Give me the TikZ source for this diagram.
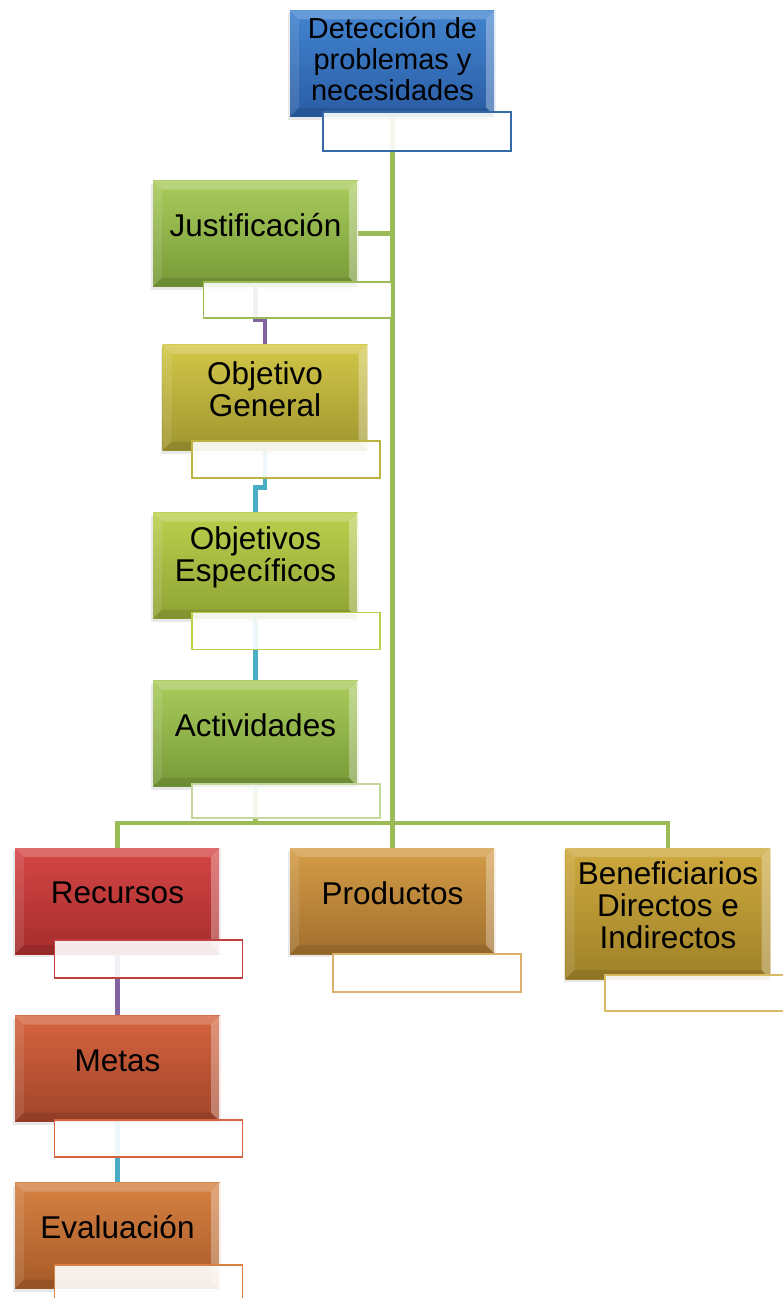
\documentclass[tikz,border=0pt]{standalone}
\usepackage{fontspec}
\setmainfont{Liberation Sans}
\usetikzlibrary{calc,shadows,positioning}

\definecolor{cBlueT}{HTML}{4284CF}
\definecolor{cBlueB}{HTML}{2A5DA5}
\definecolor{cGreenT}{HTML}{A9CB5C}
\definecolor{cGreenB}{HTML}{779A38}
\definecolor{cOliveT}{HTML}{D2C748}
\definecolor{cOliveB}{HTML}{9F9530}
\definecolor{cLimeT}{HTML}{BBCF4D}
\definecolor{cLimeB}{HTML}{8FA335}
\definecolor{cRedT}{HTML}{D64646}
\definecolor{cRedB}{HTML}{A52C2C}
\definecolor{cBrickT}{HTML}{D5643F}
\definecolor{cBrickB}{HTML}{A1442A}
\definecolor{cOrangeT}{HTML}{D68142}
\definecolor{cOrangeB}{HTML}{A65A28}
\definecolor{cAmberT}{HTML}{D49C47}
\definecolor{cAmberB}{HTML}{A2702E}
\definecolor{cGoldT}{HTML}{CEA93E}
\definecolor{cGoldB}{HTML}{9E8128}
\definecolor{cLinkGreen}{HTML}{9BBB59}
\definecolor{cLinkPurple}{HTML}{8064A2}
\definecolor{cLinkCyan}{HTML}{4BACC6}

\newcommand\boxfont{\fontsize{31.5}{32}\selectfont}
\newcommand\topfont{\fontsize{29}{31}\selectfont}

\pgfdeclarelayer{bg}
\pgfsetlayers{bg,main}

\tikzset{
  bevel/.style={path picture={
    \coordinate (bNW) at (path picture bounding box.north west);
    \coordinate (bNE) at (path picture bounding box.north east);
    \coordinate (bSW) at (path picture bounding box.south west);
    \coordinate (bSE) at (path picture bounding box.south east);
    \fill[white,opacity=.2] (bNW) -- (bNE) -- ([shift={(-9pt,-9pt)}]bNE) -- ([shift={(9pt,-9pt)}]bNW) -- cycle;
    \fill[white,opacity=.1] (bNW) -- ([shift={(9pt,-9pt)}]bNW) -- ([shift={(9pt,9pt)}]bSW) -- (bSW) -- cycle;
    \fill[black,opacity=.1] (bSW) -- ([shift={(9pt,9pt)}]bSW) -- ([shift={(-9pt,9pt)}]bSE) -- (bSE) -- cycle;
    \fill[white,opacity=.3] (bNE) -- (bSE) -- ([shift={(-9pt,9pt)}]bSE) -- ([shift={(-9pt,-9pt)}]bNE) -- cycle;
    \draw[white,opacity=.8,line width=2pt] (bNE) -- (bSE);
  }},
  mainbox/.style 2 args={rectangle, inner sep=0pt, minimum width=205pt, minimum height=106pt,
    top color=#1, bottom color=#2, bevel,
    drop shadow={shadow xshift=-2pt, shadow yshift=-3pt, opacity=.18}},
  boxlabel/.style={align=center, yshift=8pt, font=\boxfont, text=black, inner sep=0pt},
  subbox/.style={rectangle, inner sep=0pt, minimum width=188pt, minimum height=37pt,
    draw=#1, line width=1.5pt, fill=white, fill opacity=.9},
  greenlink/.style={draw=cLinkGreen, line width=4.5pt},
  purplelink/.style={draw=cLinkPurple, line width=4.5pt},
  cyanlink/.style={draw=cLinkCyan, line width=4.5pt}
}

\begin{document}
\begin{tikzpicture}[x=1pt,y=-1pt]
\useasboundingbox (0,0) rectangle (783,1298);

% main boxes
\node[mainbox={cBlueT}{cBlueB}, label={[boxlabel,font=\topfont,yshift=-3pt]center:{Detección de\\problemas y\\necesidades}}] (top) at (392.5,63.5) {};
\node[mainbox={cGreenT}{cGreenB}, label={[boxlabel]center:{Justificación}}] (just) at (255.5,233.5) {};
\node[mainbox={cOliveT}{cOliveB}, label={[boxlabel]center:{Objetivo\\General}}] (og) at (265,397.5) {};
\node[mainbox={cLimeT}{cLimeB}, label={[boxlabel]center:{Objetivos\\Específicos}}] (oe) at (255.5,565.5) {};
\node[mainbox={cGreenT}{cGreenB}, label={[boxlabel]center:{Actividades}}] (act) at (255.5,733.5) {};
\node[mainbox={cRedT}{cRedB}, label={[boxlabel]center:{Recursos}}] (rec) at (117.5,901) {};
\node[mainbox={cAmberT}{cAmberB}, label={[boxlabel]center:{Productos}}] (prod) at (392.5,901) {};
\node[mainbox={cGoldT}{cGoldB}, minimum height=131pt, label={[boxlabel]center:{Beneficiarios\\Directos e\\Indirectos}}] (ben) at (668,913.5) {};
\node[mainbox={cBrickT}{cBrickB}, label={[boxlabel]center:{Metas}}] (met) at (117.5,1068.5) {};
\node[mainbox={cOrangeT}{cOrangeB}, label={[boxlabel]center:{Evaluación}}] (eval) at (117.5,1235.5) {};

% text boxes below
\node[subbox=cBlueT!80!black, minimum height=39pt] (topSub) at (417,131.5) {};
\node[subbox=cLinkGreen, minimum height=36pt] (justSub) at (297.5,300) {};
\node[subbox=cOliveT!90!black] (ogSub) at (286,459.5) {};
\node[subbox=cLimeT] (oeSub) at (286,631) {};
\node[subbox=cLinkGreen!60!white, minimum height=34pt] (actSub) at (286,801) {};
\node[subbox=cRedT!90!black, minimum height=38pt] (recSub) at (148.5,959) {};
\node[subbox=cAmberT!80!white, minimum height=38pt] (prodSub) at (427,973) {};
\node[subbox=cGoldT!80!white, minimum height=36pt] (benSub) at (699,993) {};
\node[subbox=cBrickT] (metSub) at (148.5,1138.5) {};
\node[subbox=cOrangeT, minimum height=38pt] (evalSub) at (148.5,1284) {};

% connectors
\begin{pgfonlayer}{bg}
\coordinate (hub) at (255.5,823);
\draw[greenlink] (top.south) -- (prod.north);
\draw[greenlink] (just.east) -- (just.east -| top.south);
\draw[greenlink] (act.south) -- (hub);
\draw[greenlink] (rec.north) |- (ben.north |- hub) -- (ben.north);
\draw[purplelink] (just.south) -- ++(0,33) -| (og.north);
\draw[cyanlink] (og.south) -- ++(0,37) -| (oe.north);
\draw[cyanlink] (oe.south) -- (act.north);
\draw[purplelink] (rec.south) -- (met.north);
\draw[cyanlink] (met.south) -- (eval.north);
\end{pgfonlayer}

\end{tikzpicture}
\end{document}
